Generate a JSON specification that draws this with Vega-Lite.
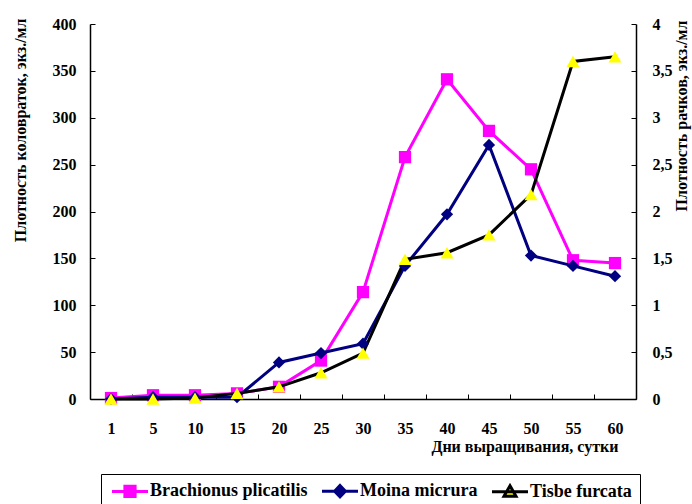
{
  "$schema": "https://vega.github.io/schema/vega-lite/v6.json",
  "autosize": "none",
  "width": 546,
  "height": 375,
  "padding": {"left": 90, "top": 24, "right": 56, "bottom": 105},
  "background": "white",
  "config": {
    "view": {"stroke": null},
    "font": "Liberation Serif",
    "axis": {
      "labelFont": "Liberation Serif",
      "labelFontSize": 16,
      "labelFontWeight": "bold",
      "labelColor": "black",
      "titleFont": "Liberation Serif",
      "titleFontSize": 16,
      "titleFontWeight": "bold",
      "titleColor": "black",
      "domainColor": "black",
      "domainWidth": 1.5,
      "tickColor": "black",
      "tickWidth": 1,
      "grid": false
    },
    "legend": {
      "labelFont": "Liberation Serif",
      "labelFontSize": 18,
      "labelFontWeight": "bold",
      "labelColor": "black"
    }
  },
  "data": {
    "values": [
      {"day": 1, "series": "Brachionus plicatilis", "value": 1},
      {"day": 5, "series": "Brachionus plicatilis", "value": 4},
      {"day": 10, "series": "Brachionus plicatilis", "value": 4},
      {"day": 15, "series": "Brachionus plicatilis", "value": 6},
      {"day": 20, "series": "Brachionus plicatilis", "value": 13},
      {"day": 25, "series": "Brachionus plicatilis", "value": 41},
      {"day": 30, "series": "Brachionus plicatilis", "value": 114},
      {"day": 35, "series": "Brachionus plicatilis", "value": 258},
      {"day": 40, "series": "Brachionus plicatilis", "value": 341},
      {"day": 45, "series": "Brachionus plicatilis", "value": 286},
      {"day": 50, "series": "Brachionus plicatilis", "value": 245},
      {"day": 55, "series": "Brachionus plicatilis", "value": 148},
      {"day": 60, "series": "Brachionus plicatilis", "value": 145},
      {"day": 1, "series": "Moina micrura", "value": 0.0},
      {"day": 5, "series": "Moina micrura", "value": 0.02},
      {"day": 10, "series": "Moina micrura", "value": 0.02},
      {"day": 15, "series": "Moina micrura", "value": 0.02},
      {"day": 20, "series": "Moina micrura", "value": 0.39},
      {"day": 25, "series": "Moina micrura", "value": 0.49},
      {"day": 30, "series": "Moina micrura", "value": 0.59},
      {"day": 35, "series": "Moina micrura", "value": 1.42},
      {"day": 40, "series": "Moina micrura", "value": 1.97},
      {"day": 45, "series": "Moina micrura", "value": 2.71},
      {"day": 50, "series": "Moina micrura", "value": 1.53},
      {"day": 55, "series": "Moina micrura", "value": 1.42},
      {"day": 60, "series": "Moina micrura", "value": 1.31},
      {"day": 1, "series": "Tisbe furcata", "value": 0.0},
      {"day": 5, "series": "Tisbe furcata", "value": 0.0},
      {"day": 10, "series": "Tisbe furcata", "value": 0.01},
      {"day": 15, "series": "Tisbe furcata", "value": 0.06},
      {"day": 20, "series": "Tisbe furcata", "value": 0.13},
      {"day": 25, "series": "Tisbe furcata", "value": 0.28},
      {"day": 30, "series": "Tisbe furcata", "value": 0.49},
      {"day": 35, "series": "Tisbe furcata", "value": 1.49},
      {"day": 40, "series": "Tisbe furcata", "value": 1.56},
      {"day": 45, "series": "Tisbe furcata", "value": 1.75},
      {"day": 50, "series": "Tisbe furcata", "value": 2.18},
      {"day": 55, "series": "Tisbe furcata", "value": 3.6},
      {"day": 60, "series": "Tisbe furcata", "value": 3.65}
    ]
  },
  "encoding": {
    "x": {
      "field": "day",
      "type": "ordinal",
      "scale": {"type": "band", "paddingInner": 0, "paddingOuter": 0},
      "axis": {
        "title": "Дни выращивания, сутки",
        "labelAngle": 0,
        "tickBand": "extent",
        "tickSize": -5,
        "labelPadding": 26,
        "titleAnchor": "end",
        "titleAlign": "right",
        "titleX": 528,
        "titleY": 52,
        "titleBaseline": "alphabetic"
      }
    },
    "color": {
      "field": "series",
      "type": "nominal",
      "scale": {
        "domain": ["Brachionus plicatilis", "Moina micrura", "Tisbe furcata"],
        "range": ["#FF00FF", "#000080", "#000000"]
      },
      "legend": {
        "title": null,
        "orient": "none",
        "direction": "horizontal",
        "legendX": 11,
        "legendY": 450,
        "strokeColor": "black",
        "fillColor": "white",
        "padding": 8,
        "symbolSize": 144,
        "symbolOffset": 12,
        "columnPadding": 8,
        "labelOffset": 11,
        "labelLimit": 300,
        "encode": {
          "symbols": {
            "update": {
              "shape": {"signal": "datum.value === 'Brachionus plicatilis' ? 'M-3,0H3M-0.85,-0.85H0.85V0.85H-0.85Z' : datum.value === 'Moina micrura' ? 'M-3,0H3M0,-0.95L0.9,0L0,0.95L-0.9,0Z' : 'M-3,0H3M0,-1L1,0.75L-1,0.75Z'"},
              "fill": {"signal": "datum.value === 'Brachionus plicatilis' ? '#FF00FF' : datum.value === 'Moina micrura' ? '#000080' : '#FFFF00'"},
              "stroke": {"signal": "datum.value === 'Brachionus plicatilis' ? '#FF00FF' : datum.value === 'Moina micrura' ? '#000080' : '#000000'"},
              "strokeWidth": {"value": 3},
              "opacity": {"value": 1}
            }
          }
        }
      }
    }
  },
  "layer": [
    {
      "transform": [{"filter": "datum.series === 'Brachionus plicatilis'"}],
      "encoding": {
        "y": {
          "field": "value",
          "type": "quantitative",
          "scale": {"domain": [0, 400], "nice": false},
          "axis": {
            "orient": "left",
            "values": [0, 50, 100, 150, 200, 250, 300, 350, 400],
            "tickSize": -5,
            "labelPadding": 19,
            "title": "Плотность коловраток, экз./мл",
            "titleAngle": -90,
            "titleAlign": "right",
            "titleBaseline": "middle",
            "titleX": -70,
            "titleY": -6
          }
        }
      },
      "layer": [
        {"mark": {"type": "line", "strokeWidth": 3}},
        {
          "mark": {"type": "point", "filled": true, "opacity": 1, "size": 150, "shape": "square"},
          "encoding": {"color": {"value": "#FF00FF"}}
        }
      ]
    },
    {
      "transform": [{"filter": "datum.series !== 'Brachionus plicatilis'"}],
      "encoding": {
        "y": {
          "field": "value",
          "type": "quantitative",
          "scale": {"domain": [0, 4], "nice": false},
          "axis": {
            "orient": "right",
            "values": [0, 0.5, 1, 1.5, 2, 2.5, 3, 3.5, 4],
            "labelExpr": "replace(format(datum.value, '.1~f'), '.', ',')",
            "tickSize": -5,
            "labelPadding": 21,
            "title": "Плотность рачков, экз./мл",
            "titleAngle": -90,
            "titleAlign": "right",
            "titleBaseline": "middle",
            "titleX": 45,
            "titleY": -4
          }
        }
      },
      "layer": [
        {"mark": {"type": "line", "strokeWidth": 3}},
        {
          "transform": [{"filter": "datum.series === 'Moina micrura'"}],
          "mark": {"type": "point", "filled": true, "opacity": 1, "size": 150, "shape": "diamond"},
          "encoding": {"color": {"value": "#000080"}}
        },
        {
          "transform": [{"filter": "datum.series === 'Tisbe furcata'"}],
          "mark": {"type": "point", "filled": true, "opacity": 1, "size": 170, "shape": "triangle-up"},
          "encoding": {"color": {"value": "#FFFF00"}}
        }
      ]
    }
  ],
  "resolve": {"scale": {"y": "independent"}}
}
